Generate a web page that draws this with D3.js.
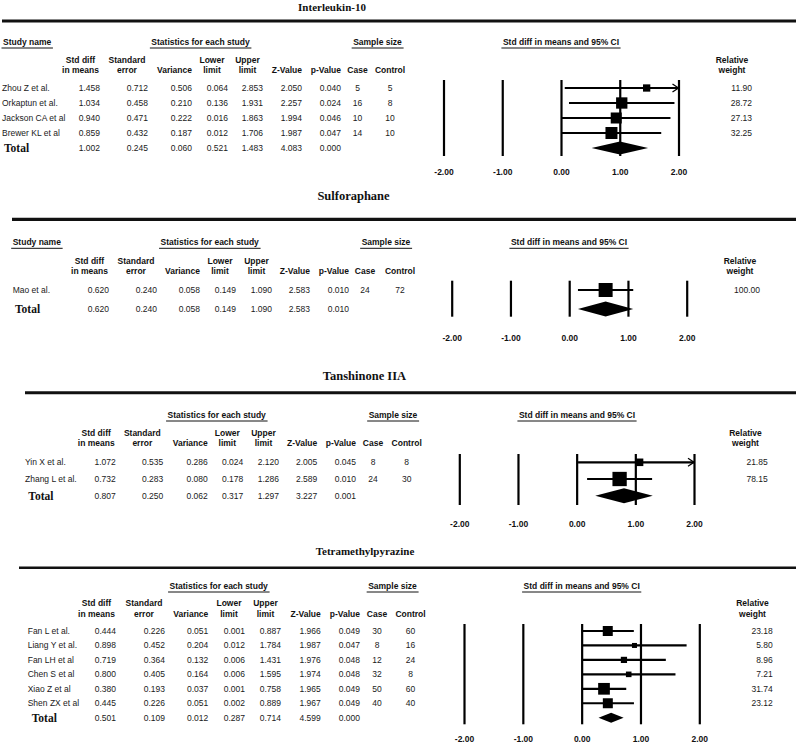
<!DOCTYPE html>
<html>
<head>
<meta charset="utf-8">
<script src="https://cdn.jsdelivr.net/npm/d3@7/dist/d3.min.js"></script>
<style>
  html, body { margin: 0; padding: 0; background: #fff; }
  svg { display: block; }
  .tbl { font-family: "Liberation Sans", Arial, sans-serif; font-size: 8.5px; fill: #1a1a1a; }
  .hdr { font-family: "Liberation Sans", Arial, sans-serif; font-size: 8.5px; font-weight: bold; fill: #111; }
  .ser { font-family: "Liberation Serif", "Times New Roman", serif; font-weight: bold; fill: #111; }
</style>
</head>
<body>
<svg id="chart" width="796" height="743"></svg>
<script>
// ---------------- DATA ----------------
// Interleukin-10
const il10Names   = ["Zhou Z et al.", "Orkaptun et al.", "Jackson CA et al", "Brewer KL et al"];
const il10SMD     = [1.458, 1.034, 0.940, 0.859];
const il10SE      = [0.712, 0.458, 0.471, 0.432];
const il10Var     = [0.506, 0.210, 0.222, 0.187];
const il10Lower   = [0.064, 0.136, 0.016, 0.012];
const il10Upper   = [2.853, 1.931, 1.863, 1.706];
const il10Z       = [2.050, 2.257, 1.994, 1.987];
const il10P       = [0.040, 0.024, 0.046, 0.047];
const il10Case    = [5, 16, 10, 14];
const il10Control = [5, 8, 10, 10];
const il10Weight  = [11.90, 28.72, 27.13, 32.25];
const il10Total   = [1.002, 0.245, 0.060, 0.521, 1.483, 4.083, 0.000];

// Sulforaphane
const sulNames   = ["Mao et al."];
const sulSMD     = [0.620];
const sulSE      = [0.240];
const sulVar     = [0.058];
const sulLower   = [0.149];
const sulUpper   = [1.090];
const sulZ       = [2.583];
const sulP       = [0.010];
const sulCase    = [24];
const sulControl = [72];
const sulWeight  = [100.00];
const sulTotal   = [0.620, 0.240, 0.058, 0.149, 1.090, 2.583, 0.010];

// Tanshinone IIA
const tanNames   = ["Yin X et al.", "Zhang L et al."];
const tanSMD     = [1.072, 0.732];
const tanSE      = [0.535, 0.283];
const tanVar     = [0.286, 0.080];
const tanLower   = [0.024, 0.178];
const tanUpper   = [2.120, 1.286];
const tanZ       = [2.005, 2.589];
const tanP       = [0.045, 0.010];
const tanCase    = [8, 24];
const tanControl = [8, 30];
const tanWeight  = [21.85, 78.15];
const tanTotal   = [0.807, 0.250, 0.062, 0.317, 1.297, 3.227, 0.001];

// Tetramethylpyrazine
const tmpNames   = ["Fan L et al.", "Liang Y et al.", "Fan LH et al", "Chen S et al", "Xiao Z et al", "Shen ZX et al"];
const tmpSMD     = [0.444, 0.898, 0.719, 0.800, 0.380, 0.445];
const tmpSE      = [0.226, 0.452, 0.364, 0.405, 0.193, 0.226];
const tmpVar     = [0.051, 0.204, 0.132, 0.164, 0.037, 0.051];
const tmpLower   = [0.001, 0.012, 0.006, 0.006, 0.001, 0.002];
const tmpUpper   = [0.887, 1.784, 1.431, 1.595, 0.758, 0.889];
const tmpZ       = [1.966, 1.987, 1.976, 1.974, 1.965, 1.967];
const tmpP       = [0.049, 0.047, 0.048, 0.048, 0.049, 0.049];
const tmpCase    = [30, 8, 12, 32, 50, 40];
const tmpControl = [60, 16, 24, 8, 60, 40];
const tmpWeight  = [23.18, 5.80, 8.96, 7.21, 31.74, 23.12];
const tmpTotal   = [0.501, 0.109, 0.012, 0.287, 0.714, 4.599, 0.000];

// Labels
const statHeaders = [["Std diff", "in means"], ["Standard", "error"], ["", "Variance"], ["Lower", "limit"], ["Upper", "limit"], ["", "Z-Value"], ["", "p-Value"]];
const sampleHeaders = ["Case", "Control"];
const weightHeader = ["Relative", "weight"];
const xTicks = [-2, -1, 0, 1, 2];

// ---------------- LAYOUT ----------------
const panels = [
  { title: "Interleukin-10", titleX: 332, titleY: 11, titleSize: 11,
    ruleY: 21, ruleX0: 2, ruleW: 3, studyNameX: 3,
    secY: 42, statCenter: 200.5, sampleCenter: 377.5, ciCenter: 561,
    h1Y: 60, h2Y: 70, nameX: 2, totalX: 4,
    colRight: [100, 148, 192, 228, 263, 302, 341], caseX: 357.5, controlX: 390,
    rwCenter: 732, rwRight: 752, row0: 88, rowStep: 15,
    xRange: [443.5, 678.5], axisTop: 80, axisBottom: 156, tickY: 172,
    boxMax: 12, diamondH: 13,
    names: il10Names, smd: il10SMD, se: il10SE, vr: il10Var, lo: il10Lower, hi: il10Upper,
    z: il10Z, p: il10P, cs: il10Case, ct: il10Control, w: il10Weight, total: il10Total },
  { title: "Sulforaphane", titleX: 353.5, titleY: 200, titleSize: 12.5,
    ruleY: 219.3, ruleX0: 12, ruleW: 3.2, studyNameX: 12.7,
    secY: 242.3, statCenter: 209.7, sampleCenter: 386, ciCenter: 569,
    h1Y: 261, h2Y: 271, nameX: 12.7, totalX: 15,
    colRight: [109, 157, 200, 236, 272, 310, 349], caseX: 365, controlX: 400,
    rwCenter: 740, rwRight: 760, row0: 290, rowStep: 19,
    xRange: [451.7, 686.7], axisTop: 280.7, axisBottom: 316.7, tickY: 338,
    boxMax: 14, diamondH: 15,
    names: sulNames, smd: sulSMD, se: sulSE, vr: sulVar, lo: sulLower, hi: sulUpper,
    z: sulZ, p: sulP, cs: sulCase, ct: sulControl, w: sulWeight, total: sulTotal },
  { title: "Tanshinone IIA", titleX: 364.5, titleY: 380, titleSize: 12.5,
    ruleY: 392.7, ruleX0: 25, ruleW: 3, studyNameX: null,
    secY: 415, statCenter: 216.7, sampleCenter: 393, ciCenter: 577,
    h1Y: 433.3, h2Y: 443.3, nameX: 25, totalX: 28.3,
    colRight: [115.7, 163.3, 207.7, 243.3, 279, 317.3, 356], caseX: 373, controlX: 406.7,
    rwCenter: 745.5, rwRight: 767.7, row0: 462.3, rowStep: 16.7,
    xRange: [459.3, 694], axisTop: 454, axisBottom: 505, tickY: 524,
    boxMax: 14.3, diamondH: 15,
    names: tanNames, smd: tanSMD, se: tanSE, vr: tanVar, lo: tanLower, hi: tanUpper,
    z: tanZ, p: tanP, cs: tanCase, ct: tanControl, w: tanWeight, total: tanTotal },
  { title: "Tetramethylpyrazine", titleX: 365, titleY: 555, titleSize: 11,
    ruleY: 567.7, ruleX0: 19, ruleW: 2.6, studyNameX: null,
    secY: 586, statCenter: 218.7, sampleCenter: 392.5, ciCenter: 581.7,
    h1Y: 603.3, h2Y: 614, nameX: 27.7, totalX: 31.7,
    colRight: [116, 165, 208.3, 245, 281, 320.7, 360], caseX: 377, controlX: 410.5,
    rwCenter: 752.5, rwRight: 772.7, row0: 631, rowStep: 14.45,
    xRange: [464, 699.3], axisTop: 624, axisBottom: 724.3, tickY: 739,
    boxMax: 11.7, diamondH: 10,
    names: tmpNames, smd: tmpSMD, se: tmpSE, vr: tmpVar, lo: tmpLower, hi: tmpUpper,
    z: tmpZ, p: tmpP, cs: tmpCase, ct: tmpControl, w: tmpWeight, total: tmpTotal }
];

const twoLineDelta = [19.5, 21, 0, 16, 15.5, 0, 0];

const loc = d3.formatLocale({ decimal: ".", thousands: ",", grouping: [3], currency: ["$", ""], minus: "-" });
const f3 = loc.format(".3f");
const f2 = loc.format(".2f");

const svg = d3.select("#chart");
svg.append("rect").attr("width", 796).attr("height", 743).attr("fill", "#fff");

function underlined(g, text, x, y, anchor) {
  const t = g.append("text").attr("class", "hdr").attr("x", x).attr("y", y).attr("dy", "0.35em")
    .attr("text-anchor", anchor).text(text);
  const bb = t.node().getBBox();
  g.append("line").attr("x1", bb.x - 1.5).attr("x2", bb.x + bb.width + 1.5)
    .attr("y1", y + 6).attr("y2", y + 6).attr("stroke", "#111").attr("stroke-width", 1);
}

panels.forEach(P => {
  const g = svg.append("g");
  // title
  g.append("text").attr("class", "ser").attr("x", P.titleX).attr("y", P.titleY)
    .attr("text-anchor", "middle").style("font-size", P.titleSize + "px").text(P.title);
  // rule
  g.append("line").attr("x1", P.ruleX0).attr("x2", 796).attr("y1", P.ruleY).attr("y2", P.ruleY)
    .attr("stroke", "#111").attr("stroke-width", P.ruleW);

  // section headers
  if (P.studyNameX !== null) underlined(g, "Study name", P.studyNameX, P.secY, "start");
  underlined(g, "Statistics for each study", P.statCenter, P.secY, "middle");
  underlined(g, "Sample size", P.sampleCenter, P.secY, "middle");
  underlined(g, "Std diff in means and 95% CI", P.ciCenter, P.secY, "middle");

  // column headers
  statHeaders.forEach((h, j) => {
    const two = h[0] !== "";
    const x = two ? P.colRight[j] - twoLineDelta[j] : P.colRight[j];
    const anchor = two ? "middle" : "end";
    if (two) g.append("text").attr("class", "hdr").attr("x", x).attr("y", P.h1Y).attr("dy", "0.35em")
      .attr("text-anchor", anchor).text(h[0]);
    g.append("text").attr("class", "hdr").attr("x", x).attr("y", P.h2Y).attr("dy", "0.35em")
      .attr("text-anchor", anchor).text(h[1]);
  });
  g.append("text").attr("class", "hdr").attr("x", P.caseX).attr("y", P.h2Y).attr("dy", "0.35em")
    .attr("text-anchor", "middle").text(sampleHeaders[0]);
  g.append("text").attr("class", "hdr").attr("x", P.controlX).attr("y", P.h2Y).attr("dy", "0.35em")
    .attr("text-anchor", "middle").text(sampleHeaders[1]);
  weightHeader.forEach((t, k) => {
    g.append("text").attr("class", "hdr").attr("x", P.rwCenter).attr("y", k ? P.h2Y : P.h1Y).attr("dy", "0.35em")
      .attr("text-anchor", "middle").text(t);
  });

  const rowY = i => P.row0 + i * P.rowStep;
  const n = P.names.length;

  // study rows
  P.names.forEach((name, i) => {
    const y = rowY(i);
    g.append("text").attr("class", "tbl").attr("x", P.nameX).attr("y", y).attr("dy", "0.35em").text(name);
    const vals = [P.smd[i], P.se[i], P.vr[i], P.lo[i], P.hi[i], P.z[i], P.p[i]];
    vals.forEach((v, j) => {
      g.append("text").attr("class", "tbl").attr("x", P.colRight[j]).attr("y", y).attr("dy", "0.35em")
        .attr("text-anchor", "end").text(f3(v));
    });
    g.append("text").attr("class", "tbl").attr("x", P.caseX).attr("y", y).attr("dy", "0.35em")
      .attr("text-anchor", "middle").text(P.cs[i]);
    g.append("text").attr("class", "tbl").attr("x", P.controlX).attr("y", y).attr("dy", "0.35em")
      .attr("text-anchor", "middle").text(P.ct[i]);
    g.append("text").attr("class", "tbl").attr("x", P.rwRight).attr("y", y).attr("dy", "0.35em")
      .attr("text-anchor", "end").text(f2(P.w[i]));
  });

  // total row
  const yT = rowY(n);
  g.append("text").attr("class", "ser").attr("x", P.totalX).attr("y", yT).attr("dy", "0.35em")
    .style("font-size", "11.5px").text("Total");
  P.total.forEach((v, j) => {
    g.append("text").attr("class", "tbl").attr("x", P.colRight[j]).attr("y", yT).attr("dy", "0.35em")
      .attr("text-anchor", "end").text(f3(v));
  });

  // forest plot
  const x = d3.scaleLinear().domain([-2, 2]).range(P.xRange);
  const axis = d3.axisBottom(x).tickValues(xTicks).tickFormat(f2)
    .tickSize(-(P.axisBottom - P.axisTop)).tickPadding(P.tickY - P.axisBottom - 3);
  const ag = g.append("g").attr("transform", `translate(0,${P.axisBottom})`).call(axis);
  ag.select(".domain").remove();
  ag.selectAll(".tick line").attr("stroke", "#000").attr("stroke-width", 2.2);
  ag.selectAll(".tick text").attr("fill", "#111")
    .style("font-family", "'Liberation Sans', Arial, sans-serif").style("font-size", "8.5px").style("font-weight", "bold");

  const box = d3.scaleSqrt().domain([0, d3.max(P.w)]).range([0, P.boxMax]);
  const [dMin, dMax] = x.domain();
  P.names.forEach((name, i) => {
    const y = rowY(i);
    const x1 = x(Math.max(P.lo[i], dMin)), x2 = x(Math.min(P.hi[i], dMax));
    g.append("line").attr("x1", x1).attr("x2", x2).attr("y1", y).attr("y2", y)
      .attr("stroke", "#000").attr("stroke-width", 2.2);
    if (P.hi[i] > dMax) {
      g.append("path").attr("d", `M${x2 - 6},${y - 4}L${x2},${y}L${x2 - 6},${y + 4}`)
        .attr("fill", "none").attr("stroke", "#000").attr("stroke-width", 1.3);
    }
    const s = box(P.w[i]);
    g.append("rect").attr("x", x(P.smd[i]) - s / 2).attr("y", y - s / 2).attr("width", s).attr("height", s)
      .attr("fill", "#000");
  });
  const t = P.total, h = P.diamondH / 2;
  g.append("path")
    .attr("d", `M${x(t[3])},${yT}L${x(t[0])},${yT - h}L${x(t[4])},${yT}L${x(t[0])},${yT + h}Z`)
    .attr("fill", "#000");
});
</script>
</body>
</html>
